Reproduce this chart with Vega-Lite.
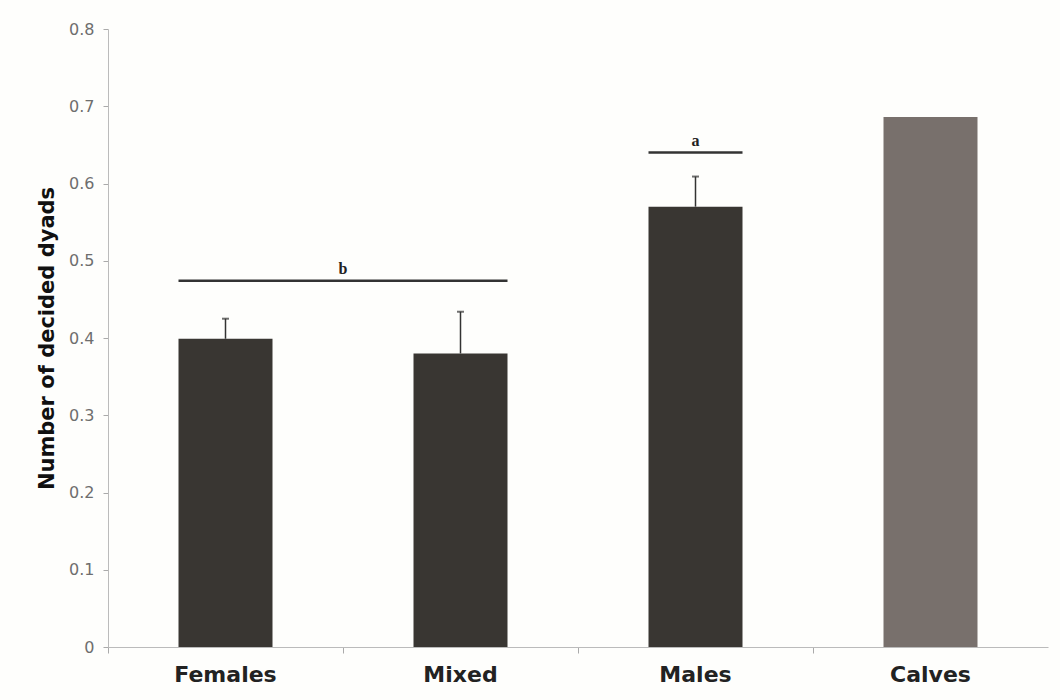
{
  "$schema": "https://vega.github.io/schema/vega-lite/v6.json",
  "width": 940,
  "height": 618,
  "autosize": {"type": "none"},
  "padding": {"left": 108, "top": 29, "right": 12, "bottom": 53},
  "background": "#fefefc",
  "config": {"view": {"stroke": null}, "font": "DejaVu Sans"},
  "datasets": {
    "bars": [
      {"group": "Females", "value": 0.399, "upper": 0.425},
      {"group": "Mixed", "value": 0.380, "upper": 0.434},
      {"group": "Males", "value": 0.570, "upper": 0.609},
      {"group": "Calves", "value": 0.686, "upper": null}
    ],
    "sig": [
      {"letter": "b", "start": "Females", "end": "Mixed", "level": 0.474},
      {"letter": "a", "start": "Males", "end": "Males", "level": 0.640}
    ]
  },
  "layer": [
    {
      "data": {"name": "bars"},
      "mark": {"type": "bar"},
      "encoding": {
        "x": {
          "field": "group", "type": "nominal",
          "scale": {"domain": ["Females", "Mixed", "Males", "Calves"], "paddingInner": 0.6, "paddingOuter": 0.3},
          "axis": {
            "title": null, "labelAngle": 0, "labelFontSize": 22, "labelFontWeight": "bold",
            "labelColor": "#222", "tickSize": 6, "tickColor": "#aaa", "domainColor": "#bbb",
            "labelPadding": 11, "bandPosition": -0.75, "grid": false
          }
        },
        "y": {
          "field": "value", "type": "quantitative",
          "scale": {"domain": [0, 0.8], "nice": false},
          "axis": {
            "title": "Number of decided dyads", "titleFontSize": 21, "titleFontWeight": "bold",
            "titleColor": "#111", "titlePadding": 11, "labelFontSize": 16, "labelColor": "#6e6e6e",
            "labelPadding": 9, "tickSize": 5, "tickColor": "#aaa", "domainColor": "#bbb",
            "grid": false, "values": [0, 0.1, 0.2, 0.3, 0.4, 0.5, 0.6, 0.7, 0.8], "format": "~g"
          }
        },
        "color": {
          "field": "group", "type": "nominal",
          "scale": {"domain": ["Females", "Mixed", "Males", "Calves"], "range": ["#393632", "#393632", "#393632", "#78706c"]},
          "legend": null
        }
      }
    },
    {
      "data": {"name": "bars"},
      "transform": [{"filter": "datum.upper != null"}],
      "mark": {"type": "rule", "color": "#333", "strokeWidth": 1.5},
      "encoding": {
        "x": {"field": "group", "type": "nominal"},
        "y": {"field": "value", "type": "quantitative"},
        "y2": {"field": "upper"}
      }
    },
    {
      "data": {"name": "bars"},
      "transform": [{"filter": "datum.upper != null"}],
      "mark": {"type": "tick", "color": "#333", "size": 7, "thickness": 2},
      "encoding": {
        "x": {"field": "group", "type": "nominal"},
        "y": {"field": "upper", "type": "quantitative"}
      }
    },
    {
      "data": {"name": "sig"},
      "mark": {"type": "rule", "color": "#333", "strokeWidth": 2.5},
      "encoding": {
        "x": {"field": "start", "type": "nominal", "bandPosition": 0},
        "x2": {"field": "end", "bandPosition": 1},
        "y": {"field": "level", "type": "quantitative"}
      }
    },
    {
      "data": {"name": "sig"},
      "transform": [{"filter": "datum.letter == 'b'"}],
      "mark": {"type": "text", "font": "Liberation Serif", "fontWeight": "bold", "fontSize": 16, "baseline": "bottom", "dy": -4, "color": "#222"},
      "encoding": {
        "x": {"field": "start", "type": "nominal", "bandPosition": 1.75},
        "y": {"field": "level", "type": "quantitative"},
        "text": {"field": "letter"}
      }
    },
    {
      "data": {"name": "sig"},
      "transform": [{"filter": "datum.letter == 'a'"}],
      "mark": {"type": "text", "font": "Liberation Serif", "fontWeight": "bold", "fontSize": 16, "baseline": "bottom", "dy": -4, "color": "#222"},
      "encoding": {
        "x": {"field": "start", "type": "nominal", "bandPosition": 0.5},
        "y": {"field": "level", "type": "quantitative"},
        "text": {"field": "letter"}
      }
    }
  ]
}
